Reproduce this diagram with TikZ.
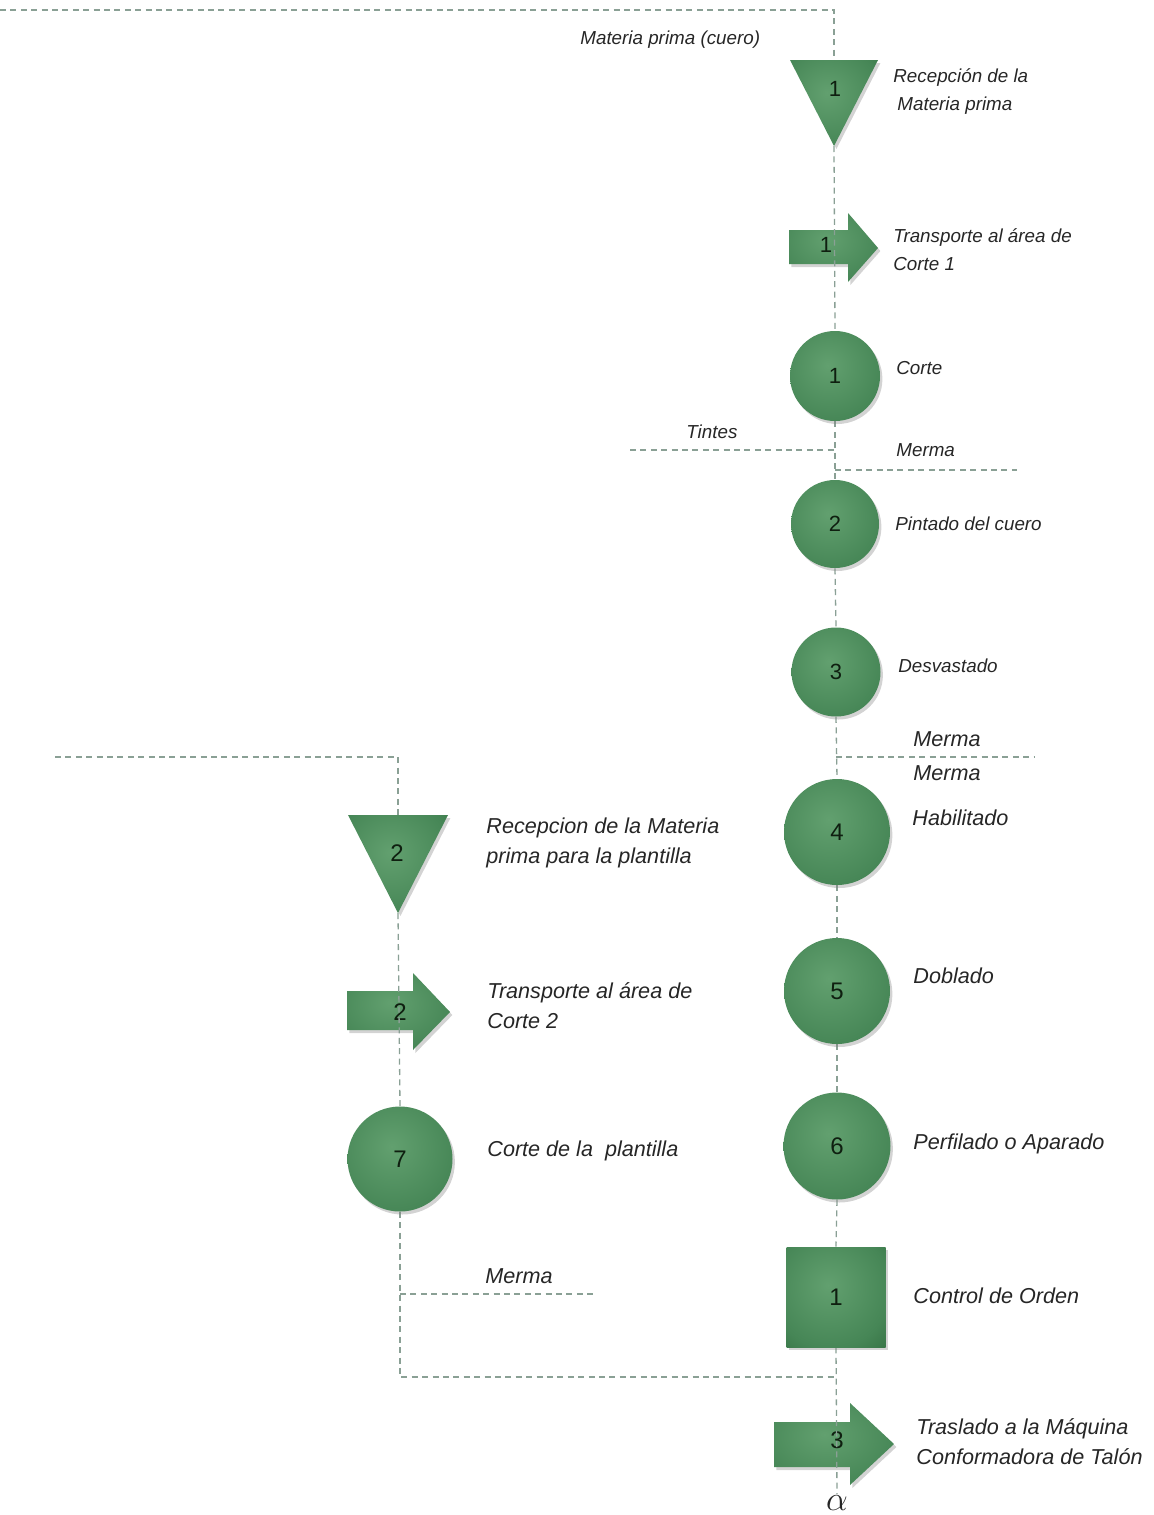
\documentclass[tikz,border=0pt]{standalone}
\usepackage{fontspec}
\setmainfont{Liberation Sans}
\usetikzlibrary{shadows,backgrounds}
\definecolor{gA}{HTML}{62A06F}
\definecolor{gM}{HTML}{468656}
\definecolor{gB}{HTML}{2B6639}
\definecolor{lineC}{HTML}{8AA095}
\definecolor{txtC}{HTML}{262626}
\definecolor{numC}{HTML}{0F1F10}
\pgfdeclareradialshading{ballg}{\pgfpoint{-4bp}{6bp}}{color(0bp)=(gA); color(30bp)=(gM); color(50bp)=(gB); color(100bp)=(gB)}
\tikzset{
  flow/.style={draw=lineC, line width=0.65pt, dash pattern=on 3pt off 2.2pt},
  shp/.style={shading=ballg, drop shadow={shadow xshift=1.2pt, shadow yshift=-1.5pt, opacity=0.35}},
  ball/.style={circle, inner sep=0pt, shp, text=numC, font=\fontsize{11}{12}\selectfont},
  sqbox/.style={rectangle, inner sep=0pt, shp, text=numC, font=\fontsize{12}{12}\selectfont},
  num/.style={inner sep=0pt, text=numC, font=\fontsize{11}{12}\selectfont},
  numL/.style={inner sep=0pt, text=numC, font=\fontsize{12}{12}\selectfont},
  lblS/.style={anchor=west, inner sep=0pt, align=left, text=txtC, font=\fontsize{9.4}{14}\selectfont\itshape},
  lblL/.style={anchor=west, inner sep=0pt, align=left, text=txtC, font=\fontsize{10.8}{15}\selectfont\itshape},
}
\begin{document}
\begin{tikzpicture}[x=0.5pt,y=-0.5pt]
\useasboundingbox (0,0) rectangle (1154,1515);

% ---- main-layer shapes ----
% triangle 1
\path[shp] (790,60) -- (878,60) -- (834,146) -- cycle;
\coordinate (t1top) at (834,60);
\coordinate (t1bot) at (834,146);
\node[num] (t1n) at (835,89) {1};
% triangle 2
\path[shp] (348,815) -- (448,815) -- (398,913) -- cycle;
\coordinate (t2top) at (398,815);
\coordinate (t2bot) at (398,913);
\node[numL] (t2n) at (397,853) {2};

% circles
\node[ball, minimum size=45pt] (c1) at (835,376) {1};
\node[ball, minimum size=44pt] (c2) at (835,524) {2};
\node[ball, minimum size=44.5pt] (c3) at (836,672) {3};
\node[ball, minimum size=53pt, font=\fontsize{12}{12}\selectfont] (c4) at (837,832) {4};
\node[ball, minimum size=53pt, font=\fontsize{12}{12}\selectfont] (c5) at (837,991) {5};
\node[ball, minimum size=53.5pt, font=\fontsize{12}{12}\selectfont] (c6) at (837,1146) {6};
\node[ball, minimum size=52.5pt, font=\fontsize{12}{12}\selectfont] (c7) at (400,1159) {7};
% square
\node[sqbox, minimum width=49.5pt, minimum height=50pt] (s1) at (836,1297) {1};

% alpha
\node[inner sep=0.5pt, text=txtC, font=\fontsize{16}{16}\selectfont] (alpha) at (837,1503) {$\alpha$};

% coordinates for lines
\coordinate (start) at (0,10);
\coordinate (k0) at (834,10);
\coordinate (tinL) at (630,450);
\coordinate (mer1R) at (1017,470);
\coordinate (mer2R) at (1035,757);
\coordinate (lstart) at (55,757);
\coordinate (ml) at (597,1294);
\coordinate (join) at (836,1377);

\begin{scope}[on background layer]
% arrows
\path[shp] (789,230) -- (848,230) -- (848,213) -- (878,248) -- (848,282) -- (848,264) -- (789,264) -- cycle;
\node[num] (a1n) at (826,245) {1};
\path[shp] (347,991) -- (413,991) -- (413,973) -- (450,1012) -- (413,1050) -- (413,1030) -- (347,1030) -- cycle;
\node[numL] (a2n) at (400,1012) {2};
\path[shp] (774,1422) -- (850,1422) -- (850,1403) -- (894,1444) -- (850,1485) -- (850,1467) -- (774,1467) -- cycle;
\node[numL] (a3n) at (837,1440) {3};

% dashed flow lines
\draw[flow] (start) -- (k0) -- (t1top);
\draw[flow] (t1bot) -- (c1.north);
\draw[flow] (c1.south) -- (c2.north);
\draw[flow] (tinL) -- (tinL -| c1.south);
\draw[flow] (mer1R -| c1.south) -- (mer1R);
\draw[flow] (c2.south) -- (c3.north);
\draw[flow] (c3.south) -- (c4.north);
\draw[flow] (mer2R -| c3.south) -- (mer2R);
\draw[flow] (c4.south) -- (c5.north);
\draw[flow] (c5.south) -- (c6.north);
\draw[flow] (c6.south) -- (s1.north);
\draw[flow] (s1.south) -- (alpha.north);
\draw[flow] (lstart) -- (lstart -| t2top) -- (t2top);
\draw[flow] (t2bot) -- (c7.north);
\draw[flow] (c7.south) -- (c7.south |- join) -- (join);
\draw[flow] (ml -| c7.south) -- (ml);
\end{scope}

% labels
\node[lblS] (l0) at (580,40) {Materia prima (cuero)};
\node[lblS] (l1) at (893,92) {Recepción de la\\\hspace{2pt}Materia prima};
\node[lblS] (l2) at (893,250) {Transporte al área de\\Corte 1};
\node[lblS] (l3) at (896,368) {Corte};
\node[lblS] (l4) at (686,432) {Tintes};
\node[lblS] (l5) at (896,450) {Merma};
\node[lblS] (l6) at (895,524) {Pintado del cuero};
\node[lblS] (l7) at (898,666) {Desvastado};
\node[lblL] (l8) at (913,739) {Merma};
\node[lblL] (l9) at (913,773) {Merma};
\node[lblL] (l10) at (912,818) {Habilitado};
\node[lblL] (l11) at (913,976) {Doblado};
\node[lblL] (l12) at (913,1144) {Perfilado o Aparado};
\node[lblL] (l13) at (913,1296) {Control de Orden};
\node[lblL] (l14) at (916,1442) {Traslado a la Máquina\\Conformadora de Talón};
\node[lblL] (l15) at (486,843) {Recepcion de la Materia\\prima para la plantilla};
\node[lblL] (l16) at (487,1006) {Transporte al área de\\Corte 2};
\node[lblL] (l17) at (487,1151) {Corte de la\ \ plantilla};
\node[lblL] (l18) at (485,1276) {Merma};
\end{tikzpicture}
\end{document}
